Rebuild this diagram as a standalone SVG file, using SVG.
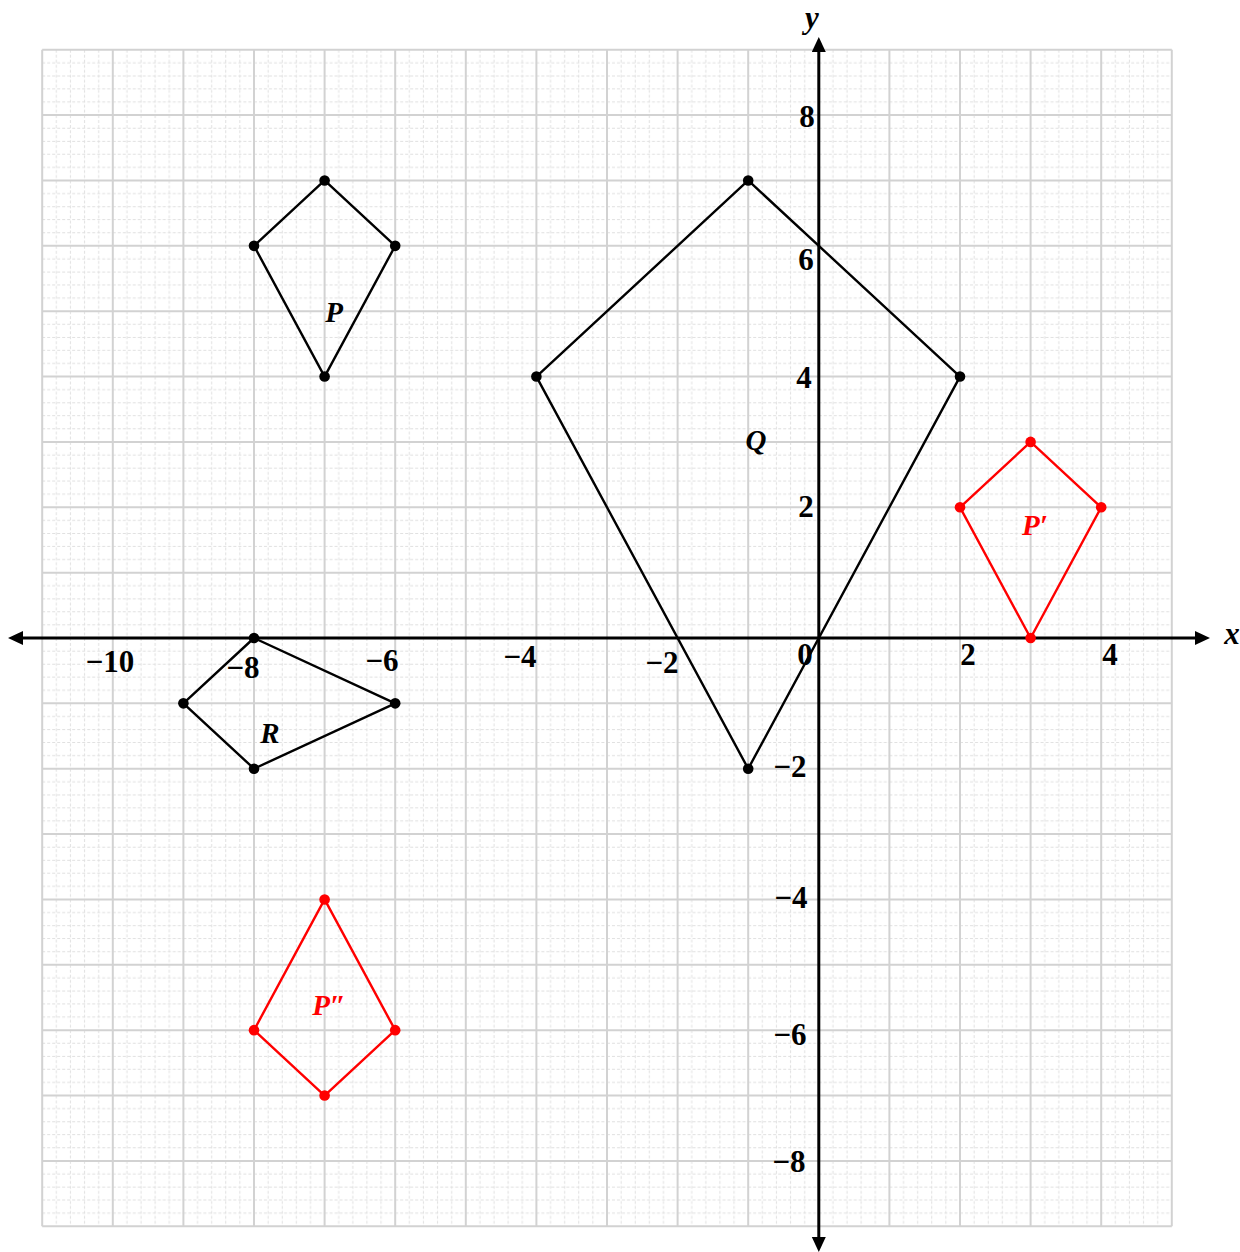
<svg xmlns="http://www.w3.org/2000/svg" width="1240" height="1252" viewBox="0 0 1240 1252">
<style>
.minor{stroke:#e0e0e0;stroke-width:1;stroke-dasharray:3 2;fill:none}
.major{stroke:#d2d2d2;stroke-width:2;fill:none}
.axis{stroke:#000;stroke-width:3;fill:none}
.blk{stroke:#000;stroke-width:2.4;fill:none;stroke-linejoin:round}
.red{stroke:#ff0000;stroke-width:2.4;fill:none;stroke-linejoin:round}
.dk{fill:#000}
.dr{fill:#ff0000}
.tick{font-family:"Liberation Serif","DejaVu Serif",serif;font-weight:bold;font-size:31px;fill:#000;text-anchor:middle}
.lab{font-family:"Liberation Serif","DejaVu Serif",serif;font-weight:bold;font-style:italic;font-size:29px;text-anchor:middle}
.ax{font-family:"Liberation Serif","DejaVu Serif",serif;font-weight:bold;font-style:italic;font-size:31px;fill:#000;text-anchor:middle}
</style>
<defs>
<pattern id="mg" patternUnits="userSpaceOnUse" x="818.8" y="638" width="70.6" height="65.36">
<path class="minor" d="M14.12,0V65.36M28.24,0V65.36M42.36,0V65.36M56.48,0V65.36M0,13.072H70.6M0,26.144H70.6M0,39.216H70.6M0,52.288H70.6"/>
</pattern>
<marker id="ah" markerUnits="userSpaceOnUse" markerWidth="16" markerHeight="16" refX="3" refY="7" orient="auto-start-reverse">
<path d="M0,0L15,7L0,14z" fill="#000"/>
</marker>
</defs>
<rect width="1240" height="1252" fill="#fff"/>
<g id="grid">
<rect x="42.2" y="49.76" width="1129.6" height="1176.48" fill="url(#mg)"/>
<path class="major" d="M42.2,49.76V1226.24M112.8,49.76V1226.24M183.4,49.76V1226.24M254,49.76V1226.24M324.6,49.76V1226.24M395.2,49.76V1226.24M465.8,49.76V1226.24M536.4,49.76V1226.24M607,49.76V1226.24M677.6,49.76V1226.24M748.2,49.76V1226.24M889.4,49.76V1226.24M960,49.76V1226.24M1030.6,49.76V1226.24M1101.2,49.76V1226.24M1171.8,49.76V1226.24"/>
<path class="major" d="M42.2,49.76H1171.8M42.2,115.12H1171.8M42.2,180.48H1171.8M42.2,245.84H1171.8M42.2,311.2H1171.8M42.2,376.56H1171.8M42.2,441.92H1171.8M42.2,507.28H1171.8M42.2,572.64H1171.8M42.2,703.36H1171.8M42.2,768.72H1171.8M42.2,834.08H1171.8M42.2,899.44H1171.8M42.2,964.8H1171.8M42.2,1030.16H1171.8M42.2,1095.52H1171.8M42.2,1160.88H1171.8M42.2,1226.24H1171.8"/>
</g>
<g id="axes">
<line class="axis" x1="20" y1="638" x2="1198" y2="638" marker-start="url(#ah)" marker-end="url(#ah)"/>
<line class="axis" x1="818.8" y1="49" x2="818.8" y2="1240" marker-start="url(#ah)" marker-end="url(#ah)"/>
<text class="ax" x="1232" y="644">x</text>
<text class="ax" x="812" y="28">y</text>
</g>
<g id="ticks">
<text class="tick" x="110" y="672">−10</text>
<text class="tick" x="243" y="678">−8</text>
<text class="tick" x="382" y="671">−6</text>
<text class="tick" x="520" y="667">−4</text>
<text class="tick" x="662" y="673">−2</text>
<text class="tick" x="805" y="665">0</text>
<text class="tick" x="968" y="665">2</text>
<text class="tick" x="1110" y="665">4</text>
<text class="tick" x="807" y="127">8</text>
<text class="tick" x="806" y="270">6</text>
<text class="tick" x="804" y="388">4</text>
<text class="tick" x="806" y="517">2</text>
<text class="tick" x="790" y="777">−2</text>
<text class="tick" x="791" y="908">−4</text>
<text class="tick" x="790" y="1045">−6</text>
<text class="tick" x="789" y="1172">−8</text>
</g>
<g id="shapeP">
<polygon class="blk" points="324.6,180.48 395.2,245.84 324.6,376.56 254,245.84"/>
<circle class="dk" cx="324.6" cy="180.48" r="5.3"/><circle class="dk" cx="395.2" cy="245.84" r="5.3"/><circle class="dk" cx="324.6" cy="376.56" r="5.3"/><circle class="dk" cx="254" cy="245.84" r="5.3"/>
<text class="lab" x="334" y="322" fill="#000">P</text>
</g>
<g id="shapeQ">
<polygon class="blk" points="748.2,180.48 960,376.56 748.2,768.72 536.4,376.56"/>
<circle class="dk" cx="748.2" cy="180.48" r="5.3"/><circle class="dk" cx="960" cy="376.56" r="5.3"/><circle class="dk" cx="748.2" cy="768.72" r="5.3"/><circle class="dk" cx="536.4" cy="376.56" r="5.3"/>
<text class="lab" x="756" y="450" fill="#000">Q</text>
</g>
<g id="shapeR">
<polygon class="blk" points="254,638 395.2,703.36 254,768.72 183.4,703.36"/>
<circle class="dk" cx="254" cy="638" r="5.3"/><circle class="dk" cx="395.2" cy="703.36" r="5.3"/><circle class="dk" cx="254" cy="768.72" r="5.3"/><circle class="dk" cx="183.4" cy="703.36" r="5.3"/>
<text class="lab" x="270" y="743" fill="#000">R</text>
</g>
<g id="shapeP1">
<polygon class="red" points="1030.6,441.92 1101.2,507.28 1030.6,638 960,507.28"/>
<circle class="dr" cx="1030.6" cy="441.92" r="5.3"/><circle class="dr" cx="1101.2" cy="507.28" r="5.3"/><circle class="dr" cx="1030.6" cy="638" r="5.3"/><circle class="dr" cx="960" cy="507.28" r="5.3"/>
<text class="lab" x="1035" y="535" fill="#ff0000">P′</text>
</g>
<g id="shapeP2">
<polygon class="red" points="324.6,899.44 395.2,1030.16 324.6,1095.52 254,1030.16"/>
<circle class="dr" cx="324.6" cy="899.44" r="5.3"/><circle class="dr" cx="395.2" cy="1030.16" r="5.3"/><circle class="dr" cx="324.6" cy="1095.52" r="5.3"/><circle class="dr" cx="254" cy="1030.16" r="5.3"/>
<text class="lab" x="329" y="1015" fill="#ff0000">P″</text>
</g>
</svg>
